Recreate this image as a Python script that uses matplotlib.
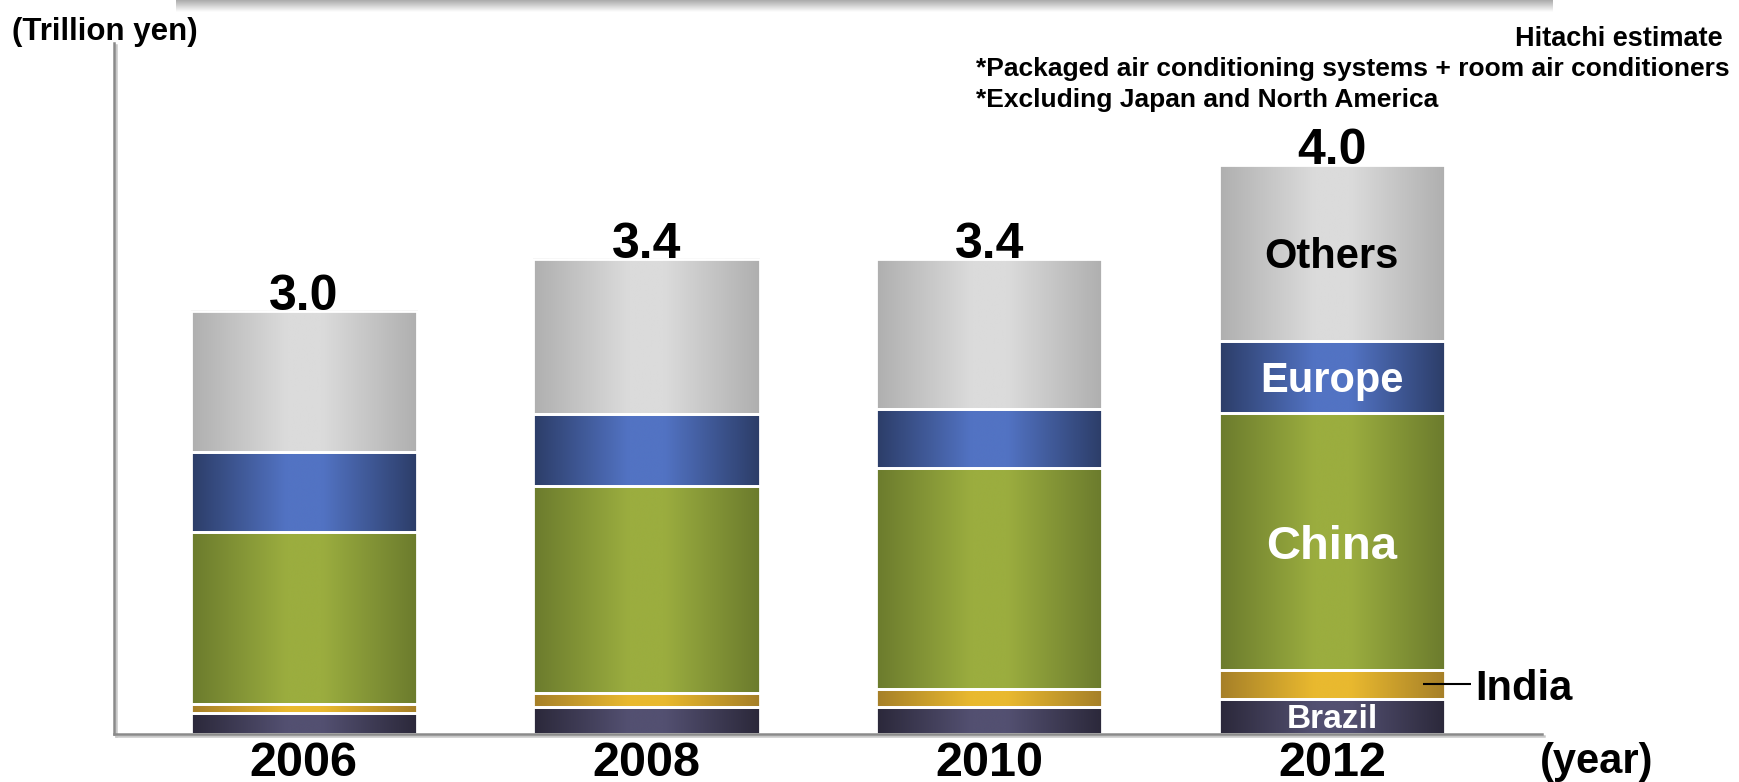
import numpy as np
import matplotlib.pyplot as plt
import matplotlib.patheffects as pe
from matplotlib.colors import LinearSegmentedColormap

plt.rcParams['font.family'] = ['Liberation Sans', 'DejaVu Sans']
plt.rcParams['font.weight'] = 'bold'

# data (trillion yen)
years = ['2006', '2008', '2010', '2012']
brazil = [0.15, 0.19, 0.19, 0.25]
india = [0.06, 0.10, 0.13, 0.20]
china = [1.22, 1.46, 1.56, 1.82]
europe = [0.56, 0.51, 0.42, 0.51]
others = [1.00, 1.10, 1.06, 1.24]
total_labels = [3.0, 3.4, 3.4, 4.0]

# (name, values, edge colour, centre colour)
segments = [
    ('Brazil', brazil, '#2b283a', '#535071'),
    ('India', india, '#a57f28', '#e9b92f'),
    ('China', china, '#6b7b2d', '#9bad3f'),
    ('Europe', europe, '#2c3d68', '#5273c3'),
    ('Others', others, '#afafaf', '#dbdbdb'),
]

W, H = 1740, 782
fig = plt.figure(figsize=(W / 100, H / 100), dpi=100)

# shaded strip at the very top of the slide
strip = fig.add_axes([176 / W, 1 - 12 / H, (1553 - 176) / W, 12 / H])
strip.imshow(np.linspace(0, 1, 64).reshape(-1, 1), cmap=LinearSegmentedColormap.from_list('s', ['#aaaaaa', '#ffffff']),
             aspect='auto', interpolation='bicubic')
strip.axis('off')

ax = fig.add_axes([114 / W, (H - 734) / H, (1542 - 114) / W, (734 - 43) / H])

x = np.arange(len(years))
width = 0.66
grad = np.linspace(0, 1, 256).reshape(1, -1)
bottom = np.zeros(len(years))
bar_sets = {}
for name, vals, c_edge, c_mid in segments:
    bars = ax.bar(x, vals, width, bottom=bottom, facecolor='none', edgecolor='white', linewidth=2, zorder=3)
    cmap = LinearSegmentedColormap.from_list(name, [(0, c_edge), (0.42, c_mid), (0.58, c_mid), (1, c_edge)])
    for r in bars:
        ax.imshow(grad, extent=[r.get_x(), r.get_x() + r.get_width(), r.get_y(), r.get_y() + r.get_height()],
                  aspect='auto', cmap=cmap, zorder=2, interpolation='bicubic')
    bar_sets[name] = bars
    bottom += np.array(vals)

ax.set_xlim(-0.554, 3.613)
ax.set_ylim(0, 691 / 141.5)

# totals on top
for xi, tot, lab in zip(x, bottom, total_labels):
    ax.text(xi, tot + 0.005, f'{lab:.1f}', ha='center', va='baseline', fontsize=36, zorder=4)

# segment names on the last bar
def seg_mid(name):
    r = bar_sets[name][-1]
    return r.get_y() + r.get_height() / 2

ax.text(3, seg_mid('Others'), 'Others', ha='center', va='center_baseline', fontsize=30, color='black', zorder=4)
ax.text(3, seg_mid('Europe'), 'Europe', ha='center', va='center_baseline', fontsize=30, color='white', zorder=4)
ax.text(3, seg_mid('China'), 'China', ha='center', va='center_baseline', fontsize=34, color='white', zorder=4)
ax.text(3, seg_mid('Brazil'), 'Brazil', ha='center', va='center_baseline', fontsize=24, color='white', zorder=4)
ax.plot([3.265, 3.405], [seg_mid('India')] * 2, color='black', lw=1.5, zorder=4, solid_capstyle='butt')
ax.text(3.417, seg_mid('India'), 'India', ha='left', va='center_baseline', fontsize=30, color='black', zorder=4)

for s in ['top', 'right']:
    ax.spines[s].set_visible(False)
for s in ['left', 'bottom']:
    ax.spines[s].set_color('#8a8a8a')
    ax.spines[s].set_linewidth(1.8)
    ax.spines[s].set_path_effects([pe.SimpleLineShadow(offset=(1.2, -1.5), shadow_color='#c8c8c8', alpha=1),
                                   pe.Normal()])
    ax.spines[s].set_zorder(5)

ax.set_xticks(x, years)
ax.tick_params(axis='x', length=0, pad=5.2, labelsize=35)
ax.set_yticks([])

fig.text(12 / W, 1 - 40 / H, '(Trillion yen)', fontsize=22.5, ha='left', va='baseline')
fig.text(1723 / W, 1 - 46.3 / H, 'Hitachi estimate', fontsize=19.5, ha='right', va='baseline')
fig.text(976.5 / W, 1 - 76.2 / H, '*Packaged air conditioning systems + room air conditioners',
         fontsize=19, ha='left', va='baseline')
fig.text(976.5 / W, 1 - 107.3 / H, '*Excluding Japan and North America', fontsize=19, ha='left', va='baseline')
fig.text(1540 / W, 1 - 773 / H, '(year)', fontsize=30, ha='left', va='baseline')

fig.savefig('out.png', dpi=100)
